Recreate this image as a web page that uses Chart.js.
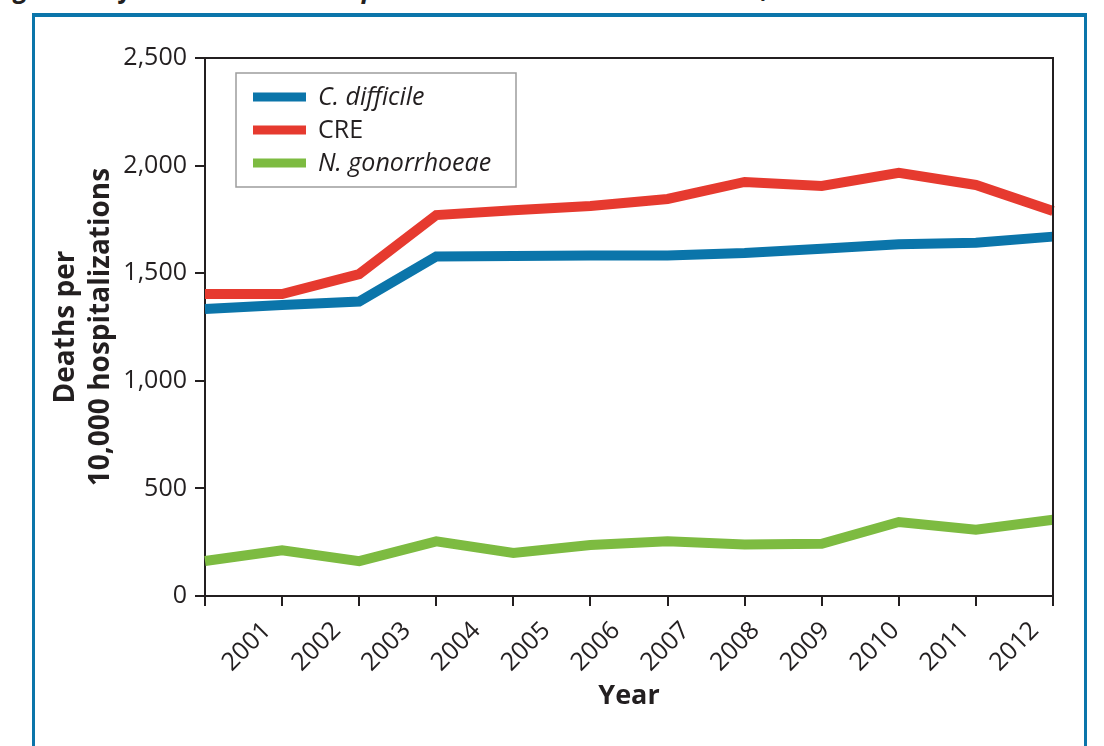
<!DOCTYPE html>
<html lang="en">
<head>
<meta charset="UTF-8">
<title>Deaths per 10,000 hospitalizations, 2001–2012</title>
<script src="https://cdn.jsdelivr.net/npm/chart.js@4.4.7/dist/chart.umd.min.js"></script>
<style>
*{margin:0;padding:0;box-sizing:border-box}
body{width:1104px;height:746px;overflow:hidden;background:#fff;position:relative;font-family:"Open Sans",sans-serif}
.head{position:absolute;left:14px;top:-30px;white-space:nowrap;font:italic 700 26px "Open Sans",sans-serif;color:#231f20}
.frame{position:absolute;left:32px;top:13px;width:1055px;height:800px;border:3px solid #0b75aa;border-top-width:4px}
.wrap{position:absolute;left:0;top:0;width:1104px;height:746px}
</style>
</head>
<body>
<div class="head">gure 1 Infection-Related Hospital Deaths in the United States, 2001–2012</div>
<div class="frame"></div>
<div class="wrap"><canvas id="c"></canvas></div>
<script>
const years = ["2001","2002","2003","2004","2005","2006","2007","2008","2009","2010","2011","2012"];
const cDifficile = [1334,1352,1368,1578,1580,1582,1582,1594,1614,1634,1642,1670];
const cre = [1403,1403,1496,1770,1793,1812,1845,1924,1905,1966,1910,1789];
const gonorrhoeae = [163,212,162,254,200,237,254,239,243,344,308,354];
const seriesNames = ["C. difficile","CRE","N. gonorrhoeae"];
const seriesItalic = [true,false,true];
const yTicks = [0,500,1000,1500,2000,2500];

const INK = "#231f20";
const FONT = "'Open Sans', sans-serif";

// box round the plot area
const frameBox = {
  id: "frameBox",
  afterDraw(chart) {
    const a = chart.chartArea, ctx = chart.ctx;
    ctx.save();
    ctx.strokeStyle = INK;
    ctx.lineWidth = 2;
    ctx.beginPath();
    ctx.moveTo(a.left, a.top);
    ctx.lineTo(a.right, a.top);
    ctx.lineTo(a.right, a.bottom);
    ctx.stroke();
    ctx.restore();
  }
};

// legend box inside the plot, top left
const boxLegend = {
  id: "boxLegend",
  afterDraw(chart) {
    const a = chart.chartArea, ctx = chart.ctx;
    const x = a.left + 31, y = a.top + 15, w = 280, h = 114;
    ctx.save();
    ctx.fillStyle = "#fff";
    ctx.fillRect(x, y, w, h);
    ctx.strokeStyle = "#9d9d9d";
    ctx.lineWidth = 1.5;
    ctx.strokeRect(x, y, w, h);
    chart.data.datasets.forEach((ds, i) => {
      const cy = y + 24 + i * 33;
      ctx.fillStyle = ds.borderColor;
      ctx.fillRect(x + 17, cy - 4.5, 53, 9);
      ctx.fillStyle = INK;
      ctx.font = (seriesItalic[i] ? "italic " : "") + "400 25px " + FONT;
      ctx.textBaseline = "middle";
      ctx.fillText(ds.label, x + 82, cy + 1);
    });
    ctx.restore();
  }
};

const line = (label, data, color) => ({
  label, data, borderColor: color, backgroundColor: color,
  borderWidth: 10, pointRadius: 0, tension: 0, fill: false,
  borderJoinStyle: "miter", borderCapStyle: "butt"
});

new Chart(document.getElementById("c"), {
  type: "line",
  data: {
    labels: years,
    datasets: [
      line(seriesNames[0], cDifficile, "#0b75aa"),
      line(seriesNames[1], cre, "#e63a2f"),
      line(seriesNames[2], gonorrhoeae, "#7dbb41")
    ]
  },
  options: {
    responsive: true,
    maintainAspectRatio: false,
    animation: false,
    layout: { padding: { left: 0, right: 51, top: 58, bottom: 0 } },
    plugins: { legend: { display: false }, tooltip: { enabled: false } },
    scales: {
      x: {
        type: "category",
        offset: false,
        weight: 0,
        afterFit(s) { s.height = 10; },
        grid: { drawOnChartArea: false, drawTicks: true, tickLength: 10, color: INK, lineWidth: 2 },
        border: { display: true, color: INK, width: 2 },
        ticks: { display: false }
      },
      // year labels: in the source they sit a little tighter than the tick marks
      xYears: {
        type: "linear",
        position: "bottom",
        weight: 1,
        min: -0.89, max: 11.26,
        afterFit(s) { s.height = 140; },
        afterBuildTicks(s) { s.ticks = years.map((_, i) => ({ value: i })); },
        grid: { display: false, drawTicks: false },
        border: { display: false },
        ticks: { color: INK, font: { family: FONT, size: 25 }, minRotation: 45, maxRotation: 45, autoSkip: false, padding: 10,
          callback: v => years[v] },
        title: { display: true, text: "Year", color: INK, font: { family: FONT, size: 27, weight: "bold" }, padding: { top: 0, bottom: 33 } }
      },
      y: {
        min: 0, max: 2500,
        afterFit(s) { s.width = 205; },
        afterBuildTicks(s) { s.ticks = yTicks.map(v => ({ value: v })); },
        grid: { drawOnChartArea: false, drawTicks: true, tickLength: 10, color: INK, lineWidth: 2 },
        border: { display: true, color: INK, width: 2 },
        ticks: { color: INK, font: { family: FONT, size: 25 }, padding: 8,
          callback: v => v.toLocaleString("en-US") },
        title: { display: true, text: ["Deaths per", "10,000 hospitalizations"], color: INK,
          font: { family: FONT, size: 28, weight: "bold", lineHeight: 1.25 }, padding: { top: 49, bottom: 0 } }
      }
    }
  },
  plugins: [frameBox, boxLegend]
});
</script>
</body>
</html>
